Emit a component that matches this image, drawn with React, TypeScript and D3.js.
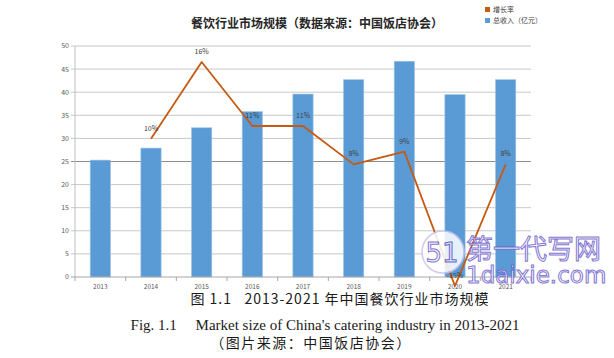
import React, { useEffect, useRef } from 'react';
import * as d3 from 'd3';

const years = ['2013', '2014', '2015', '2016', '2017', '2018', '2019', '2020', '2021'];
const revenue = [25.3, 27.9, 32.3, 35.8, 39.6, 42.7, 46.7, 39.5, 42.7];
const growth = [null, 10, 16, 11, 11, 8, 9, -1.5, 8];
const growthLabels = ['', '10%', '16%', '11%', '11%', '8%', '9%', '-15%', '8%'];
const yTicks = [0, 5, 10, 15, 20, 25, 30, 35, 40, 45, 50];

const CJK = '"Noto Sans CJK SC", "Noto Sans", sans-serif';

const App = () => {
  const ref = useRef<SVGSVGElement | null>(null);

  useEffect(() => {
    const width = 614;
    const height = 358;
    const margin = { top: 46, right: 83, bottom: 81, left: 75 };

    const svg = d3.select(ref.current);
    svg.selectAll('*').remove();

    svg.append('rect').attr('width', width).attr('height', height).attr('fill', '#fff');

    const x = d3.scaleBand()
      .domain(years)
      .range([margin.left, width - margin.right])
      .paddingInner(0.6)
      .paddingOuter(0.3);

    const y = d3.scaleLinear()
      .domain([0, 50])
      .range([height - margin.bottom, margin.top]);

    // secondary (hidden) axis for the growth rate
    const yRate = d3.scaleLinear()
      .domain([-0.8, 17.25])
      .range([height - margin.bottom, margin.top]);

    // gridlines
    svg.append('g')
      .selectAll('line')
      .data(yTicks.filter(d => d > 0))
      .enter()
      .append('line')
      .attr('x1', margin.left - 4)
      .attr('x2', width - margin.right)
      .attr('y1', d => y(d))
      .attr('y2', d => y(d))
      .attr('stroke', d => (d === 25 ? '#8c8c8c' : '#c8c8c8'))
      .attr('stroke-width', 1);

    // y labels
    svg.append('g')
      .selectAll('text')
      .data(yTicks)
      .enter()
      .append('text')
      .attr('x', margin.left - 6)
      .attr('y', d => y(d))
      .attr('dy', '0.35em')
      .attr('text-anchor', 'end')
      .style('font-family', CJK)
      .style('font-size', '7px')
      .style('fill', '#595959')
      .text(d => d);

    svg.append('line')
      .attr('x1', margin.left).attr('x2', margin.left)
      .attr('y1', margin.top).attr('y2', y(0))
      .attr('stroke', '#bfbfbf');

    // bars
    svg.append('g')
      .selectAll('rect')
      .data(revenue)
      .enter()
      .append('rect')
      .attr('x', (d, i) => x(years[i]) as number)
      .attr('y', d => y(d))
      .attr('width', x.bandwidth())
      .attr('height', d => y(0) - y(d))
      .attr('fill', '#5b9bd5')
      .attr('stroke', '#9dc3e6')
      .attr('stroke-width', 0.6);

    svg.append('line')
      .attr('x1', margin.left - 4).attr('x2', width - margin.right)
      .attr('y1', y(0)).attr('y2', y(0))
      .attr('stroke', '#a6a6a6');

    // x ticks at band edges
    const step = x.step();
    svg.append('g')
      .selectAll('line')
      .data(d3.range(years.length + 1))
      .enter()
      .append('line')
      .attr('x1', i => margin.left + i * step)
      .attr('x2', i => margin.left + i * step)
      .attr('y1', y(0))
      .attr('y2', y(0) + 4)
      .attr('stroke', '#a6a6a6');

    svg.append('g')
      .selectAll('text')
      .data(years)
      .enter()
      .append('text')
      .attr('x', d => (x(d) as number) + x.bandwidth() / 2)
      .attr('y', y(0) + 12)
      .attr('text-anchor', 'middle')
      .style('font-family', CJK)
      .style('font-size', '6.5px')
      .style('fill', '#595959')
      .text(d => d);

    // growth line
    const pts = growth
      .map((g, i) => ({ g, i }))
      .filter(d => d.g !== null) as { g: number; i: number }[];
    const cx = (i: number) => (x(years[i]) as number) + x.bandwidth() / 2;

    const line = d3.line<{ g: number; i: number }>()
      .x(d => cx(d.i))
      .y(d => yRate(d.g));

    svg.append('path')
      .datum(pts)
      .attr('fill', 'none')
      .attr('stroke', '#c55a11')
      .attr('stroke-width', 1.8)
      .attr('stroke-linejoin', 'round')
      .attr('d', line);

    svg.append('g')
      .selectAll('text')
      .data(pts)
      .enter()
      .append('text')
      .attr('x', d => cx(d.i))
      .attr('y', d => yRate(d.g) - 8)
      .attr('text-anchor', 'middle')
      .style('font-family', CJK)
      .style('font-size', '7px')
      .style('fill', '#404040')
      .text(d => growthLabels[d.i]);

    // title
    svg.append('text')
      .attr('x', 317)
      .attr('y', 28)
      .attr('text-anchor', 'middle')
      .style('font-family', CJK)
      .style('font-weight', 'bold')
      .style('font-size', '12px')
      .style('fill', '#262626')
      .text('餐饮行业市场规模（数据来源：中国饭店协会）');

    // legend
    const legend = svg.append('g').attr('transform', 'translate(485, 10)');
    const legendItems = [
      { label: '增长率', color: '#c55a11' },
      { label: '总收入（亿元）', color: '#5b9bd5' },
    ];
    legendItems.forEach((item, i) => {
      legend.append('rect')
        .attr('x', 0)
        .attr('y', i * 11 - 3)
        .attr('width', 5)
        .attr('height', 5)
        .attr('fill', item.color);
      legend.append('text')
        .attr('x', 8)
        .attr('y', i * 11)
        .attr('dy', '0.35em')
        .style('font-family', CJK)
        .style('font-size', '7px')
        .style('fill', '#404040')
        .text(item.label);
    });

    // watermark
    const wm = svg.append('g').attr('opacity', 0.85);
    wm.append('circle')
      .attr('cx', 443).attr('cy', 252).attr('r', 21)
      .attr('fill', '#ffffff').attr('stroke', '#c9c3ee').attr('stroke-width', 1.5);
    wm.append('text')
      .attr('x', 442).attr('y', 262)
      .attr('text-anchor', 'middle')
      .style('font-family', '"DejaVu Sans", sans-serif')
      .style('font-size', '26px')
      .style('fill', '#f5f3ff').style('stroke', '#6f61c9').style('stroke-width', 1)
      .text('51');
    wm.append('text')
      .attr('x', 466).attr('y', 259)
      .style('font-family', CJK)
      .style('font-size', '27px')
      .style('fill', '#f5f3ff').style('stroke', '#6f61c9').style('stroke-width', 1)
      .text('第一代写网');
    wm.append('text')
      .attr('x', 466).attr('y', 283)
      .style('font-family', '"DejaVu Sans", sans-serif')
      .style('font-size', '23px')
      .style('fill', '#f5f3ff').style('stroke', '#6f61c9').style('stroke-width', 1)
      .text('1daixie.com');

    // captions
    svg.append('text')
      .attr('x', 340).attr('y', 304)
      .attr('text-anchor', 'middle')
      .style('font-family', CJK)
      .style('font-size', '14px')
      .style('letter-spacing', '1px')
      .style('fill', '#1a1a1a')
      .style('white-space', 'pre')
      .text('图 1.1   2013-2021 年中国餐饮行业市场规模');

    svg.append('text')
      .attr('x', 325).attr('y', 330)
      .attr('text-anchor', 'middle')
      .style('font-family', '"Liberation Serif", serif')
      .style('font-size', '15px')
      .style('fill', '#1a1a1a')
      .style('white-space', 'pre')
      .text("Fig. 1.1     Market size of China's catering industry in 2013-2021");

    svg.append('text')
      .attr('x', 311).attr('y', 348)
      .attr('text-anchor', 'middle')
      .style('font-family', CJK)
      .style('font-size', '14px')
      .style('letter-spacing', '1.5px')
      .style('fill', '#1a1a1a')
      .text('（图片来源：中国饭店协会）');
  }, []);

  return (
    <svg
      ref={ref}
      width={614}
      height={358}
      style={{ position: 'absolute', left: 0, top: 0, display: 'block' }}
    />
  );
};

export default App;
